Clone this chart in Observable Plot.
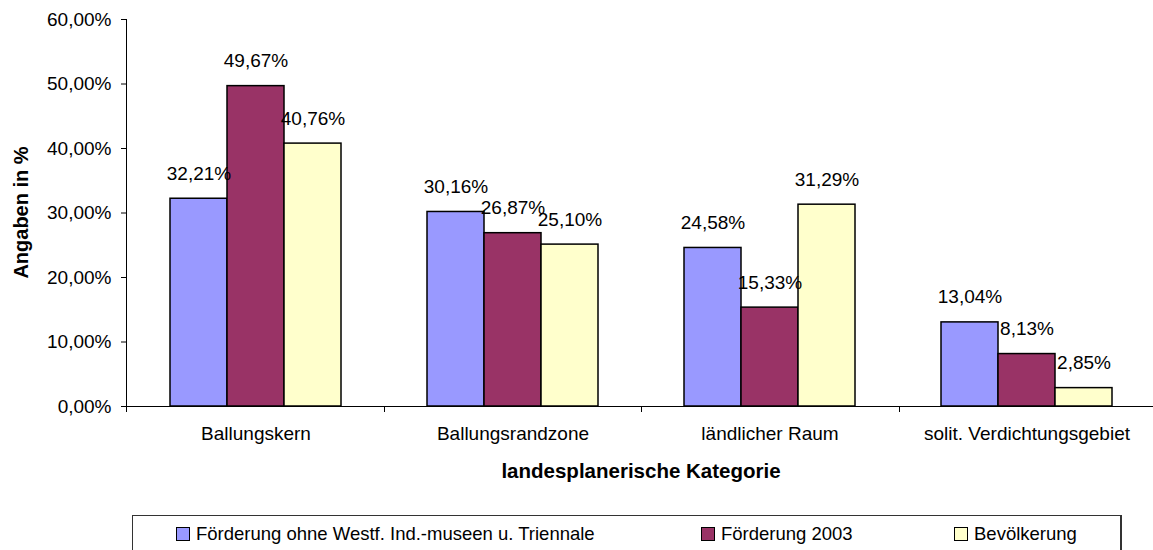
<!DOCTYPE html>
<html>
<head>
<meta charset="utf-8">
<script src="https://cdn.jsdelivr.net/npm/d3@7"></script>
<script src="https://cdn.jsdelivr.net/npm/@observablehq/plot@0.6"></script>
<style>
  html, body { margin: 0; padding: 0; background: #fff; }
  #wrap { position: relative; width: 1153px; height: 550px; overflow: hidden; font-family: "Liberation Sans", Arial, sans-serif; color: #000; }
  #legend { position: absolute; left: 132px; top: 515px; width: 990px; height: 36px; border: 1px solid #333; border-right: 2px solid #333; box-sizing: border-box; }
  .item { position: absolute; top: 8px; font-size: 18.5px; line-height: 19px; white-space: nowrap; }
  .sw { display: inline-block; width: 12px; height: 12px; border: 1px solid #000; vertical-align: -1px; margin-right: 6px; }
</style>
</head>
<body>
<div id="wrap">
  <div id="chart"></div>
  <div id="legend"></div>
</div>
<script>
const categories = ["Ballungskern", "Ballungsrandzone", "ländlicher Raum", "solit. Verdichtungsgebiet"];
const seriesNames = ["Förderung ohne Westf. Ind.-museen u. Triennale", "Förderung 2003", "Bevölkerung"];
const foerderungOhne = [0.3221, 0.3016, 0.2458, 0.1304];
const foerderung2003 = [0.4967, 0.2687, 0.1533, 0.0813];
const bevoelkerung = [0.4076, 0.2510, 0.3129, 0.0285];
const yTicks = [0, 0.1, 0.2, 0.3, 0.4, 0.5, 0.6];
const seriesColors = ["#9999FF", "#993366", "#FFFFCC"];
const xTitle = "landesplanerische Kategorie";
const yTitle = "Angaben in %";

const de = d3.formatLocale({decimal: ",", thousands: ".", grouping: [3], currency: ["", " €"]});
const pct = de.format(".2%");

const seriesValues = [foerderungOhne, foerderung2003, bevoelkerung];
const rows = [];
categories.forEach((c, i) => seriesNames.forEach((s, j) => rows.push({category: c, series: s, value: seriesValues[j][i]})));

const chart = Plot.plot({
  width: 1153,
  height: 500,
  marginTop: 19,
  marginBottom: 94,
  marginLeft: 126,
  marginRight: -3,
  style: {fontFamily: "'Liberation Sans', Arial, sans-serif", fontSize: "19px", color: "#000", background: "#fff", overflow: "visible"},
  fx: {domain: categories, paddingInner: 0, paddingOuter: 0, label: null, tickSize: 0, tickPadding: 20},
  x: {domain: seriesNames, paddingInner: 0, paddingOuter: 0.75, axis: null},
  y: {domain: [0, 0.6], ticks: yTicks, tickFormat: pct, tickSize: 6, tickPadding: 10, label: null},
  color: {domain: seriesNames, range: seriesColors},
  marks: [
    Plot.barY(rows, {fx: "category", x: "series", y: "value", fill: "series", stroke: "#000", strokeWidth: 1.5}),
    Plot.ruleY([0], {stroke: "#000", strokeWidth: 1}),
    Plot.text(rows, {fx: "category", x: "series", y: "value", text: d => pct(d.value), dy: -19, lineAnchor: "bottom", fontSize: 19, fill: "#000"})
  ]
});
document.getElementById("chart").appendChild(chart);

// Axis lines, category boundary ticks and titles (positioned through Plot's scales)
const svg = d3.select(chart);
const fx = chart.scale("fx");
const ys = chart.scale("y");
const y0 = ys.apply(0), yTop = ys.apply(0.6);
const fxStart = fx.range[0], fxEnd = fx.range[1];
const step = (fxEnd - fxStart) / categories.length;
const g = svg.append("g").attr("stroke", "#000").attr("stroke-width", 1);
g.append("line").attr("x1", fxStart + 0.5).attr("x2", fxStart + 0.5).attr("y1", yTop).attr("y2", y0);
const bounds = categories.map((c, i) => fxStart + i * step).concat([fxEnd]);
bounds.forEach(b => g.append("line").attr("x1", Math.round(b) + 0.5).attr("x2", Math.round(b) + 0.5).attr("y1", y0).attr("y2", y0 + 6));

svg.append("text")
  .attr("x", (fxStart + fxEnd) / 2).attr("y", 478)
  .attr("text-anchor", "middle").attr("font-weight", "bold").attr("font-size", 20.5)
  .attr("fill", "#000").text(xTitle);
svg.append("text")
  .attr("transform", `translate(28,${(yTop + y0) / 2}) rotate(-90)`)
  .attr("text-anchor", "middle").attr("font-weight", "bold").attr("font-size", 20)
  .attr("fill", "#000").text(yTitle);

// Legend
const legendLefts = [43, 568, 821];
const legend = d3.select("#legend");
seriesNames.forEach((s, i) => {
  const it = legend.append("div").attr("class", "item").style("left", legendLefts[i] + "px");
  it.append("span").attr("class", "sw").style("background", seriesColors[i]);
  it.append("span").text(s);
});
</script>
</body>
</html>
